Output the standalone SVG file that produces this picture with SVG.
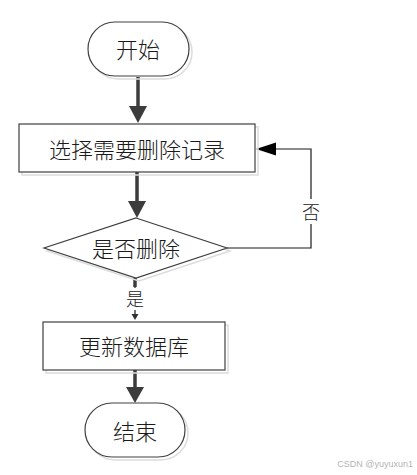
<svg xmlns="http://www.w3.org/2000/svg" width="417" height="475" viewBox="0 0 417 475">
  <style>
    .shape { fill: #ffffff; stroke: #404040; stroke-width: 1.2; }
    .shadow { fill: none; stroke: #dcdcdc; stroke-width: 1.5; }
    .txt { font-family: "Noto Sans CJK SC", "Noto Sans CJK JP", sans-serif; font-size: 22px; font-weight: 300; fill: #1a1a1a; text-anchor: middle; dominant-baseline: central; }
    .lbl { font-family: "Noto Sans CJK SC", "Noto Sans CJK JP", sans-serif; font-size: 18px; font-weight: 300; fill: #1a1a1a; text-anchor: middle; dominant-baseline: central; }
    .thick { stroke: #3c3c3c; stroke-width: 3.5; fill: none; }
    .head { fill: #3c3c3c; }
    .thin { stroke: #1a1a1a; stroke-width: 1.2; fill: none; }
  </style>
  <rect width="417" height="475" fill="#ffffff"/>

  <g id="connectors">
    <line class="thick" x1="138" y1="77" x2="138" y2="108"/>
    <polygon class="head" points="129,106 147,106 138,123"/>
    <line class="thick" x1="137" y1="172" x2="137" y2="203"/>
    <polygon class="head" points="128,201 146,201 137,218"/>
    <line class="thin" x1="135" y1="278" x2="135" y2="318"/>
    <line class="thick" x1="135" y1="278" x2="135" y2="287"/>
    <rect x="125" y="288" width="20" height="22" fill="#ffffff"/>
    <text class="lbl" x="135" y="298">是</text>
    <polygon fill="#303030" points="131.5,314 138.5,314 135,320"/>
    <line class="thick" x1="135" y1="370" x2="135" y2="388"/>
    <polygon class="head" points="126,387 144,387 135,403"/>
    <polyline class="thin" points="227,248 311,248 311,149 274,149"/>
    <polygon fill="#000000" points="256,149 276,142.5 276,155.5"/>
    <rect x="300" y="199" width="22" height="25" fill="#ffffff"/>
    <text class="lbl" x="311" y="211">否</text>
  </g>

  <g id="start">
    <rect class="shadow" x="91" y="25" width="101" height="54" rx="27"/>
    <rect class="shape" x="88" y="22" width="101" height="54" rx="27"/>
    <text class="txt" x="138" y="48">开始</text>
  </g>

  <g id="select">
    <rect class="shadow" x="22" y="127" width="236" height="48"/>
    <rect class="shape" x="19" y="124" width="236" height="48"/>
    <text class="txt" x="137" y="148">选择需要删除记录</text>
  </g>

  <g id="decide">
    <polygon class="shadow" points="139,221 230,251 139,281 47,251"/>
    <polygon class="shape" points="136,218 227,248 136,278 44,248"/>
    <text class="txt" x="136" y="247">是否删除</text>
  </g>

  <g id="update">
    <rect class="shadow" x="46" y="325" width="182" height="48"/>
    <rect class="shape" x="43" y="322" width="182" height="48"/>
    <text class="txt" x="134" y="345">更新数据库</text>
  </g>

  <g id="end">
    <rect class="shadow" x="88" y="406" width="100" height="54" rx="27"/>
    <rect class="shape" x="85" y="403" width="100" height="54" rx="27"/>
    <text class="txt" x="135" y="430">结束</text>
  </g>

  <text x="413" y="467" font-family="Liberation Sans, Arial, sans-serif" font-size="9" fill="#b4b4b4" text-anchor="end">CSDN @yuyuxun1</text>
</svg>
